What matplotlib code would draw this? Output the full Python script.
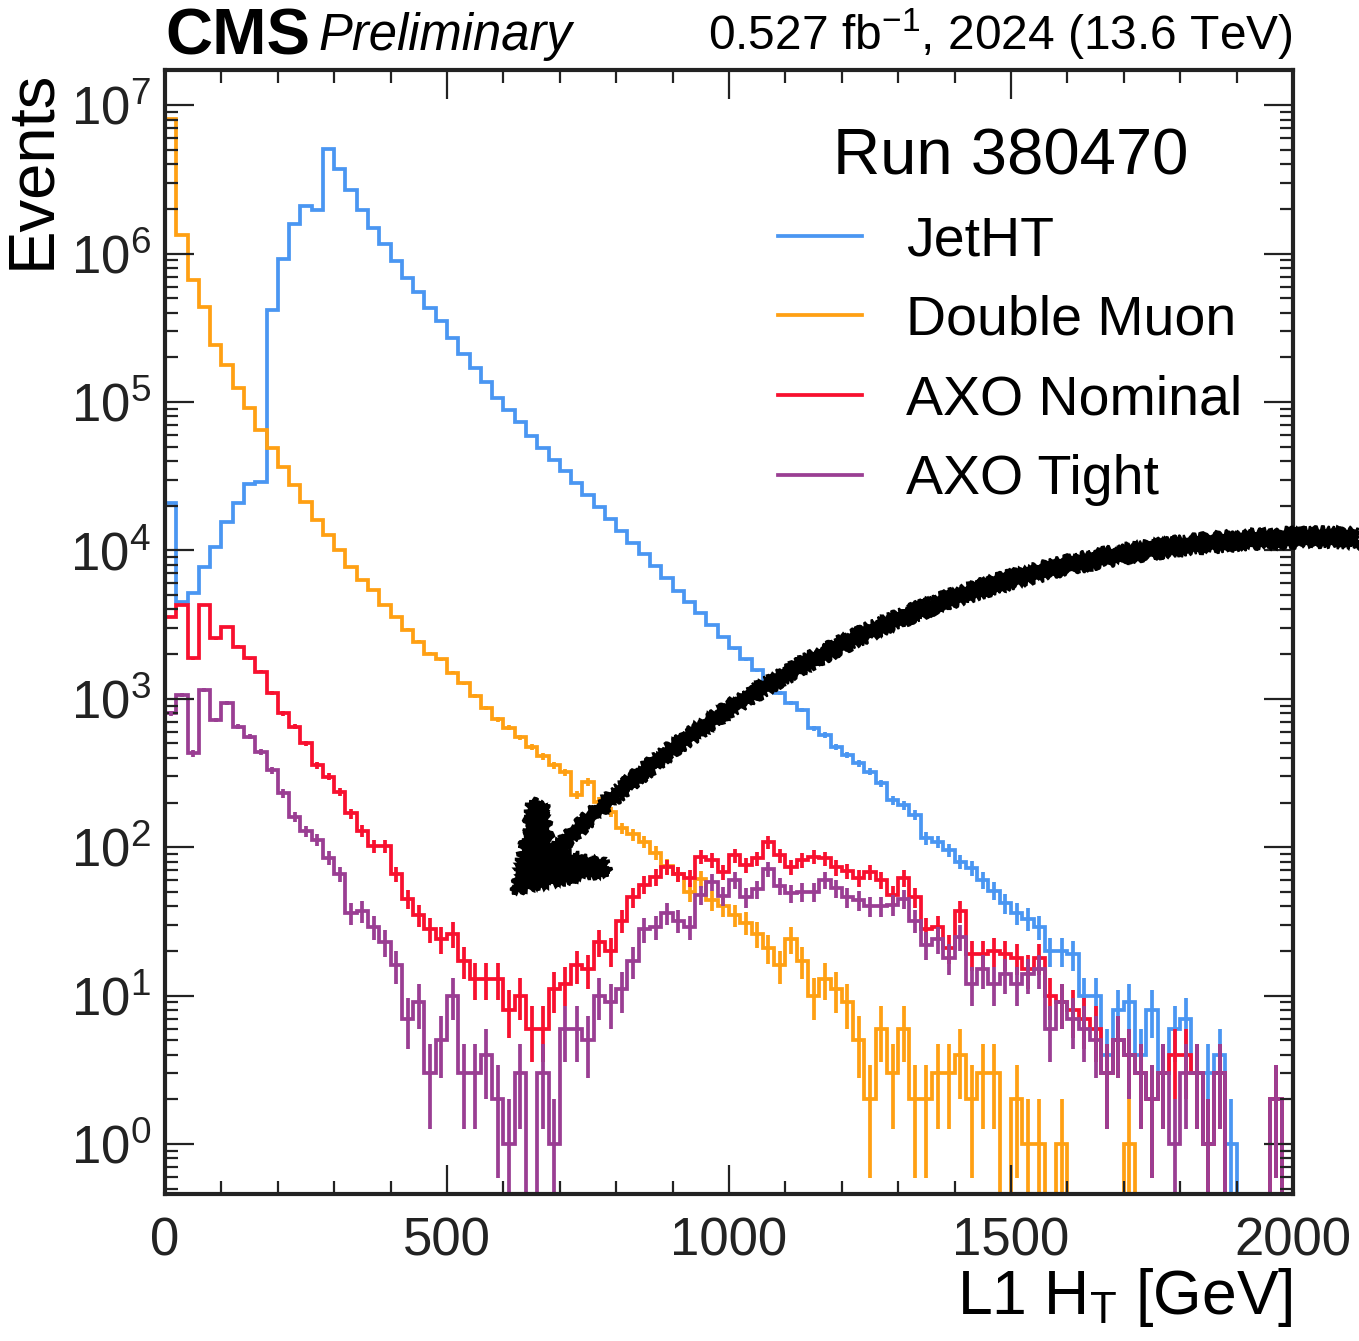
import numpy as np
import matplotlib
matplotlib.use("Agg")
import matplotlib.pyplot as plt
from matplotlib.lines import Line2D
from matplotlib.patches import Polygon
from matplotlib.ticker import MultipleLocator, LogLocator, NullFormatter

plt.rcParams['font.family'] = ['Liberation Sans', 'DejaVu Sans']
plt.rcParams['mathtext.fontset'] = 'custom'
plt.rcParams['mathtext.rm'] = 'Liberation Sans'
plt.rcParams['mathtext.it'] = 'Liberation Sans:italic'
plt.rcParams['mathtext.bf'] = 'Liberation Sans:bold'

# --- data: 100 bins of 20 GeV in L1 HT ---
bin_edges = np.arange(0, 2001, 20)

jetht = [
    21000, 4500, 5200, 7700, 10500, 15500, 21000, 28000, 29000,
    420000, 920000, 1580000, 2100000, 1960000, 5100000, 3700000, 2700000, 1960000, 1500000,
    1170000, 890000, 690000, 550000, 430000, 350000, 270000, 210000, 170000, 136000,
    107000, 89000, 73000, 59000, 48700,
    40700, 34400, 28300, 23600, 19500, 16300, 13600, 11300, 9460, 7890,
    6480, 5360, 4470, 3770, 3140, 2620, 2190, 1850, 1560,
    1270, 1090, 933, 840, 632, 570, 476, 418, 367, 323,
    269, 208, 192, 165, 115, 109, 96, 80,
    72, 60, 51, 42, 36, 33, 29, 20, 20, 19,
    10, 10, 4, 8, 9, 4, 8, 3, 6, 7,
    3, 3, 4, 1, 0, 0, 0, 0, 0,
]

double_muon = [
    8100000, 1330000, 660000, 435000, 242000, 177000, 124000, 90600, 65000, 49000,
    36600, 27600, 21300, 16000, 12700, 10000, 7760, 6300, 5400, 4300,
    3570, 2930, 2430, 2020, 1850, 1500, 1270, 1040, 870, 730,
    640, 550, 476, 410, 358, 320, 225, 276, 203, 173,
    134, 122, 109, 92, 75, 66, 50, 61, 44, 40,
    35, 31, 26, 21, 16, 24, 17, 10, 13, 11,
    9, 5, 2, 6, 3, 6, 2, 2, 3, 3,
    4, 2, 3, 3, 0, 2, 1, 1, 0, 1,
    0, 0, 0, 0, 0, 1, 0, 0, 0, 0,
    0, 0, 0, 0, 0, 0, 0, 0, 0, 0,
]

axo_nominal = [
    3570, 4290, 1875, 4290, 2555, 3060, 2245, 1875, 1523, 1088,
    798, 649, 501, 358, 299, 237, 169, 129, 102, 102,
    66, 45, 35, 28, 24, 26, 17, 13, 13, 13,
    8, 10, 6, 6, 11, 12, 16, 15, 23, 20,
    32, 46, 56, 63, 74, 66, 62, 86, 82, 68,
    88, 76, 84, 108, 88, 74, 82, 86, 84, 73,
    69, 62, 68, 60, 48, 62, 46, 28, 29, 21,
    37, 19, 19, 20, 19, 18, 15, 18, 10, 9,
    8, 7, 6, 3, 5, 4, 3, 2, 3, 4,
    4, 3, 1, 3, 0, 0, 0, 0, 2, 0,
]

axo_tight = [
    798, 1062, 429, 1146, 720, 933, 649, 556, 440, 331,
    231, 161, 128, 112, 85, 66, 36, 37, 29, 23,
    16, 7, 9, 3, 5, 10, 3, 3, 4, 2,
    1, 3, 0, 3, 1, 6, 6, 5, 10, 9,
    11, 17, 28, 29, 36, 32, 29, 48, 58, 47,
    60, 46, 52, 71, 55, 49, 50, 50, 60, 53,
    46, 44, 40, 40, 41, 45, 32, 22, 24, 18,
    25, 12, 15, 12, 14, 12, 14, 15, 6, 9,
    7, 6, 5, 3, 5, 4, 3, 2, 3, 1,
    3, 3, 1, 3, 0, 0, 0, 0, 2, 0,
]

series = [
    ("JetHT", jetht, "#4a96f2"),
    ("Double Muon", double_muon, "#ffa013"),
    ("AXO Nominal", axo_nominal, "#f8102f"),
    ("AXO Tight", axo_tight, "#9a3e93"),
]

W, H = 1359, 1341
fig = plt.figure(figsize=(W / 100, H / 100), dpi=100)
ax = fig.add_axes([165 / W, 1 - 1194 / H, (1293 - 165) / W, (1194 - 70) / H])

centers = 0.5 * (bin_edges[:-1] + bin_edges[1:])
lw = 2.7
for name, vals, col in series:
    vals = np.asarray(vals, dtype=float)
    ax.stairs(vals, bin_edges, color=col, lw=lw, baseline=None)
    m = vals > 0
    ax.errorbar(centers[m], vals[m], yerr=np.sqrt(vals[m]), fmt='none',
                ecolor=col, elinewidth=lw, capsize=0)

ax.set_yscale('log', nonpositive='clip')
ax.set_xlim(0, 2000)
ax.set_ylim(0.46, 1.73e7)

ax.xaxis.set_major_locator(MultipleLocator(500))
ax.xaxis.set_minor_locator(MultipleLocator(100))
ax.yaxis.set_major_locator(LogLocator(base=10, numticks=20))
ax.yaxis.set_minor_locator(LogLocator(base=10, subs=np.arange(2, 10), numticks=200))
ax.yaxis.set_minor_formatter(NullFormatter())

ax.tick_params(which='both', direction='in', top=True, right=True, colors='#222222')
ax.tick_params(which='major', length=21, width=1.6)
ax.tick_params(which='minor', length=9.5, width=1.6)
ax.tick_params(axis='x', labelsize=38, pad=16)
ax.tick_params(axis='y', labelsize=38, pad=10)
for sp in ax.spines.values():
    sp.set_linewidth(3)
    sp.set_color('#222222')

ax.set_xlabel(r'L1 H$_{\mathrm{T}}$ [GeV]', fontsize=45, loc='right', labelpad=0)
ax.set_ylabel('Events', fontsize=47, loc='top', labelpad=6)

# CMS labels
ax.text(0.0, 1.0134, 'CMS', transform=ax.transAxes, fontsize=47, fontweight='bold',
        ha='left', va='baseline')
ax.text(0.136, 1.0175, 'Preliminary', transform=ax.transAxes, fontsize=36.5,
        style='italic', ha='left', va='baseline')
ax.text(1.0, 1.0175, r'0.527 fb$^{-1}$, 2024 (13.6 TeV)', transform=ax.transAxes,
        fontsize=34.5, ha='right', va='baseline')

handles = [Line2D([], [], color=col, lw=lw) for _, _, col in series]
labels = [name for name, _, _ in series]
leg = ax.legend(handles, labels, title='Run 380470', loc='upper right',
                bbox_to_anchor=(0.955, 0.949), frameon=False, fontsize=40,
                title_fontsize=47, handlelength=1.5, handletextpad=0.8,
                labelspacing=0.5, borderpad=0, borderaxespad=0)

# hand-drawn style arrow (figure pixel coordinates)
def fpx(x, y):
    return (x / W, 1 - y / H)

p0 = np.array([1359.0, 538.0])
c = np.array([880.0, 525.0])
p2 = np.array([548.0, 858.0])
t = np.linspace(0, 1, 80)[:, None]
curve = (1 - t) ** 2 * p0 + 2 * t * (1 - t) * c + t ** 2 * p2
d = np.gradient(curve, axis=0)
nrm = np.stack([-d[:, 1], d[:, 0]], axis=1)
nrm /= np.linalg.norm(nrm, axis=1)[:, None]
hw = (9.0 - 2.5 * t[:, 0])[:, None]
outline = np.vstack([curve + nrm * hw, (curve - nrm * hw)[::-1]])
shaft = Polygon([fpx(x, y) for x, y in outline], closed=True, transform=fig.transFigure,
                facecolor='black', edgecolor='black', lw=1.5, clip_on=False)
shaft.set_sketch_params(scale=2.5, length=8, randomness=12)
fig.add_artist(shaft)

head_pts = [(513, 893), (530, 800), (546, 804), (553, 850), (605, 860), (610, 873)]
head = Polygon([fpx(x, y) for x, y in head_pts], closed=True, transform=fig.transFigure,
               facecolor='black', edgecolor='black', lw=2, clip_on=False)
head.set_sketch_params(scale=3, length=8, randomness=12)
fig.add_artist(head)

fig.savefig('out.png', dpi=100)
